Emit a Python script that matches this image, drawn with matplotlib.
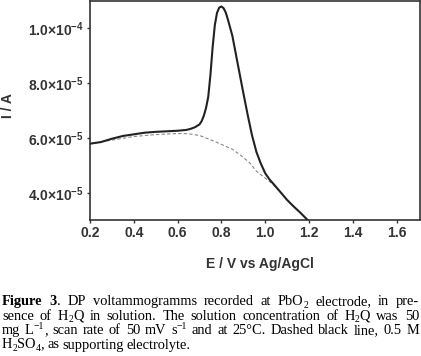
import re
import numpy as np
import matplotlib
matplotlib.use("Agg")
from matplotlib import pyplot as plt
from matplotlib.ticker import FuncFormatter

# DP voltammogram with H2Q (solid) and blank electrolyte (dashed)
E_h2q = [0.20, 0.25, 0.30, 0.35, 0.40, 0.45, 0.50, 0.55, 0.60, 0.64, 0.66, 0.68,
         0.70, 0.71, 0.72, 0.73, 0.74, 0.75, 0.76, 0.77, 0.78, 0.79, 0.80, 0.81,
         0.82, 0.83, 0.85, 0.877, 0.90, 0.92, 0.94, 0.96, 0.98, 1.00, 1.02, 1.04,
         1.07, 1.10, 1.13, 1.16, 1.20]
I_h2q = [5.80, 5.86, 5.98, 6.08, 6.14, 6.20, 6.23, 6.25, 6.27, 6.30, 6.34, 6.40,
         6.50, 6.62, 6.82, 7.10, 7.50, 8.30, 9.30, 10.10, 10.55, 10.74, 10.78, 10.72,
         10.56, 10.30, 9.72, 8.60, 7.65, 6.85, 6.10, 5.50, 5.08, 4.73, 4.50, 4.32,
         4.04, 3.76, 3.52, 3.30, 2.98]

E_blank = [0.20, 0.30, 0.40, 0.50, 0.60, 0.65, 0.70, 0.77, 0.85, 0.885, 0.93,
           0.96, 1.00, 1.03, 1.07, 1.10, 1.13, 1.16, 1.20]
I_blank = [5.80, 5.93, 6.06, 6.13, 6.17, 6.16, 6.10, 5.88, 5.60, 5.40, 5.10,
           4.80, 4.55, 4.36, 4.04, 3.76, 3.52, 3.30, 2.98]

x_ticks = [0.2, 0.4, 0.6, 0.8, 1.0, 1.2, 1.4, 1.6]
y_ticks = [4.0e-5, 6.0e-5, 8.0e-5, 1.0e-4]

# *bold*, _{sub}, ^{sup}
caption = [
    "*Figure* *3*. DP voltammogramms recorded at PbO_{2} electrode, in pre-",
    "sence of H_{2}Q in solution. The solution concentration of H_{2}Q was 50",
    "mg L^{\u22121}, scan rate of 50 mV s^{\u22121} and at 25°C. Dashed black line, 0.5 M",
    "H_{2}SO_{4}, as supporting electrolyte.",
]

plt.rcParams['font.family'] = ['Liberation Sans', 'DejaVu Sans']
plt.rcParams['mathtext.fontset'] = 'custom'
plt.rcParams['mathtext.sf'] = 'Liberation Sans:bold'

W, H = 421, 356
fig = plt.figure(figsize=(W / 100, H / 100), dpi=100)
ax = fig.add_axes([90 / W, 1 - 220 / H, 330 / W, 219 / H])

dark = '#333333'
ax.plot(E_h2q, np.array(I_h2q) * 1e-5, color='#222222', lw=1.5, zorder=3)
ax.plot(E_blank, np.array(I_blank) * 1e-5, color='#888888', lw=0.8,
        ls=(0, (3, 2)), zorder=2)

ax.set_xlim(0.2, 1.707)
ax.set_ylim(3.03e-5, 1.098e-4)
ax.set_xticks(x_ticks)
ax.set_yticks(y_ticks)


def sci(v, pos):
    exp = int(np.floor(np.log10(v) + 1e-9))
    man = v / 10 ** exp
    return r'$\mathsf{%.1f{\times}10^{%d}}$' % (man, exp)


ax.yaxis.set_major_formatter(FuncFormatter(sci))
ax.xaxis.set_major_formatter(FuncFormatter(lambda v, p: '%.1f' % v))
ax.tick_params(direction='out', length=2.5, width=1, colors=dark,
               labelsize=10, pad=2)
for lab in ax.get_xticklabels():
    lab.set_fontweight('bold')
for s in ax.spines.values():
    s.set_color(dark)
    s.set_linewidth(1.2)

fig.text(260 / W, 1 - 264 / H, 'E / V vs Ag/AgCl', ha='center', va='center',
         fontsize=10, fontweight='bold', color=dark)
fig.text(8 / W, 1 - 106 / H, 'I / A', ha='center', va='center', rotation=90,
         fontsize=10, fontweight='bold', color=dark)

# justified caption, word by word, sub/superscripts as separate small texts
renderer = fig.canvas.get_renderer()
fs = 10.4
left, right = 2.0, 419.0
baselines = [305, 319.5, 334, 348.5]
token = re.compile(r'(\*[^*]+\*|_\{[^}]*\}|\^\{[^}]*\})')


def make_word(word, yb):
    parts = []
    for p in token.split(word):
        if not p:
            continue
        size, weight, dy = fs, 'normal', 0.0
        if p.startswith('*'):
            p, weight = p[1:-1], 'bold'
        elif p.startswith('_{'):
            p, size, dy = p[2:-1], fs * 0.68, 2.8
        elif p.startswith('^{'):
            p, size, dy = p[2:-1], fs * 0.68, -4.6
        t = fig.text(0, 1 - (yb + dy) / H, p, ha='left', va='baseline',
                     fontsize=size, fontweight=weight,
                     family='Liberation Serif', color='black')
        parts.append((t, t.get_window_extent(renderer).width))
    return parts


for k, line in enumerate(caption):
    words = [make_word(w, baselines[k]) for w in line.split(' ')]
    widths = [sum(w for _, w in parts) for parts in words]
    if k < len(caption) - 1:
        gap = (right - left - sum(widths)) / (len(words) - 1)
    else:
        gap = 3.0
    x = left
    for parts, ww in zip(words, widths):
        xx = x
        for t, w in parts:
            t.set_x(xx / W)
            xx += w
        x += ww + gap

fig.savefig('out.png', dpi=100)
